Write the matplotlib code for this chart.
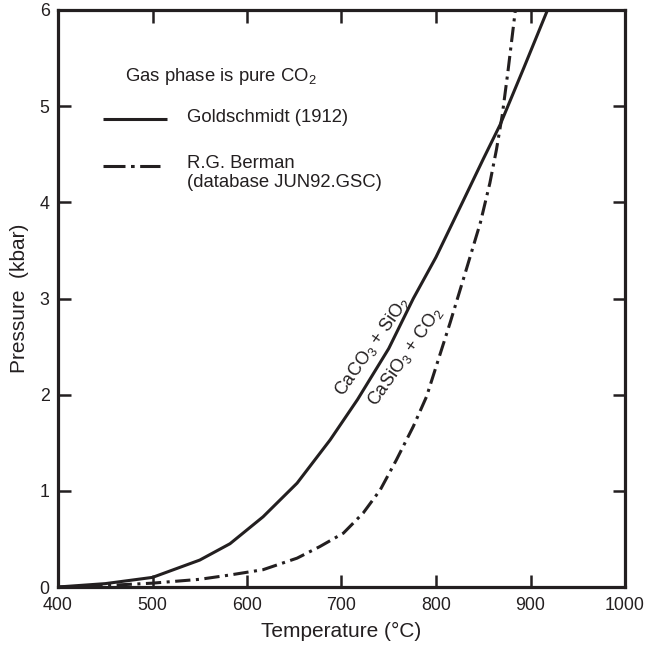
import matplotlib
matplotlib.use('Agg')
import matplotlib.pyplot as plt

plt.rcParams['font.family'] = ['Liberation Sans', 'DejaVu Sans']
plt.rcParams['mathtext.fontset'] = 'custom'
plt.rcParams['mathtext.rm'] = 'Liberation Sans'
plt.rcParams['mathtext.it'] = 'Liberation Sans:italic'
plt.rcParams['mathtext.default'] = 'regular'

# Goldschmidt (1912) equilibrium curve
t_gold = [400, 450, 500, 550, 582, 617, 653, 688, 717, 750, 776, 800, 829, 850,
          868, 893, 918]
p_gold = [0.0, 0.035, 0.10, 0.28, 0.45, 0.73, 1.08, 1.53, 1.95, 2.48, 3.00, 3.43,
          4.02, 4.45, 4.81, 5.40, 6.0]

# R.G. Berman curve (database JUN92.GSC)
t_berm = [400, 450, 500, 550, 582, 617, 653, 677, 702, 723, 741, 758, 776, 790,
          815, 832, 847, 857, 864, 870, 876, 884]
p_berm = [0.0, 0.015, 0.04, 0.08, 0.125, 0.18, 0.30, 0.42, 0.56, 0.77, 1.01, 1.32,
          1.67, 1.98, 2.75, 3.30, 3.79, 4.20, 4.55, 4.90, 5.35, 6.0]

x_ticks = [400, 500, 600, 700, 800, 900, 1000]
y_ticks = [0, 1, 2, 3, 4, 5, 6]

ink = '#231f20'
dashdot = (0, (5, 1.8, 1, 1.8))

fig = plt.figure(figsize=(6.47, 6.46), dpi=100)
ax = fig.add_axes([58 / 647, 59 / 646, 567 / 647, 577 / 646])

ax.plot(t_gold, p_gold, color=ink, lw=2.2, solid_capstyle='butt', solid_joinstyle='round')
ax.plot(t_berm, p_berm, color=ink, lw=2.2, linestyle=dashdot, dash_capstyle='butt')

ax.set_xlim(400, 1000)
ax.set_ylim(0, 6)
ax.set_xticks(x_ticks)
ax.set_yticks(y_ticks)
ax.tick_params(axis='both', direction='in', length=9, width=1.8, color=ink,
               labelsize=12.8, labelcolor=ink, top=True, right=True)
ax.tick_params(axis='x', pad=7)
ax.tick_params(axis='y', pad=6)
for s in ax.spines.values():
    s.set_linewidth(2.3)
    s.set_color(ink)

ax.set_xlabel('Temperature (°C)', fontsize=15, color=ink, labelpad=6)
ax.set_ylabel('Pressure  (kbar)', fontsize=15, color=ink, labelpad=8)

# key
ax.text(0.118, 0.884, 'Gas phase is pure CO$_2$', transform=ax.transAxes,
        fontsize=13.3, color=ink, va='center', ha='left')
ax.plot([0.079, 0.192], [0.811, 0.811], transform=ax.transAxes, color=ink, lw=2.2,
        solid_capstyle='butt')
ax.text(0.2275, 0.813, 'Goldschmidt (1912)', transform=ax.transAxes,
        fontsize=13.3, color=ink, va='center', ha='left')
ax.plot([0.079, 0.18], [0.730, 0.730], transform=ax.transAxes, color=ink, lw=2.2,
        linestyle=(0, (7.2, 1.8, 1.2, 1.8)), dash_capstyle='butt')
ax.text(0.2275, 0.748, 'R.G. Berman\n(database JUN92.GSC)', transform=ax.transAxes,
        fontsize=13.3, color=ink, va='top', ha='left', linespacing=1.15)

# reaction labels
ax.text(733, 2.5, 'CaCO$_3$ + SiO$_2$', fontsize=13, color=ink, rotation=55,
        ha='center', va='center', rotation_mode='anchor')
ax.text(767, 2.4, 'CaSiO$_3$ + CO$_2$', fontsize=13, color=ink, rotation=55,
        ha='center', va='center', rotation_mode='anchor')

fig.savefig('out.png', dpi=100)
